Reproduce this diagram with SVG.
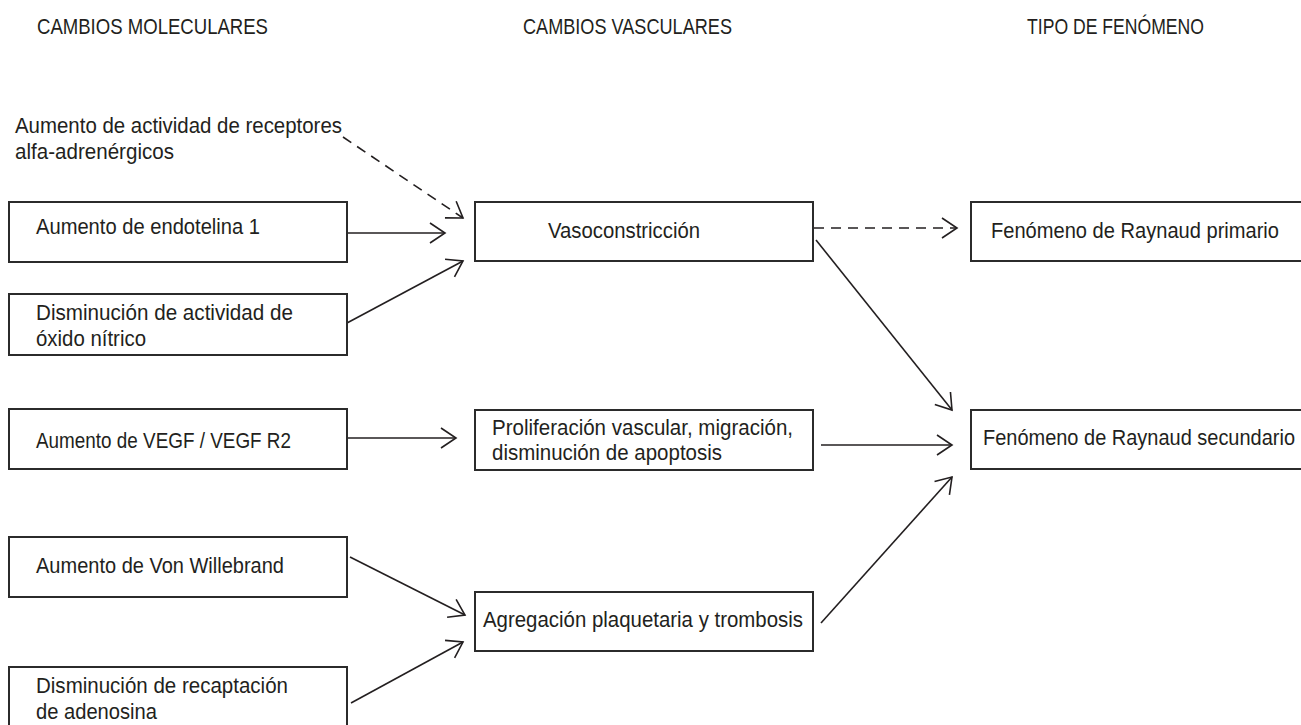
<svg xmlns="http://www.w3.org/2000/svg" width="1301" height="725" viewBox="0 0 1301 725">
<style>
text{font-family:"Liberation Sans",Arial,sans-serif;font-size:22.5px;fill:#231f20}
.box{fill:#fff;stroke:#2b2b2b;stroke-width:2}
.c{fill:none;stroke:#231f20;stroke-width:1.6}
.d{stroke-dasharray:10 7}
</style>
<defs>
<marker id="ah" markerUnits="userSpaceOnUse" markerWidth="20" markerHeight="24" viewBox="0 0 20 24" refX="17" refY="12" orient="auto">
<path d="M2,2 L17,12 L2,22" fill="none" stroke="#231f20" stroke-width="1.6"/>
</marker>
</defs>
<rect width="1301" height="725" fill="#fff"/>
<g id="headers">
<text x="37" y="34" textLength="231" lengthAdjust="spacingAndGlyphs">CAMBIOS MOLECULARES</text>
<text x="523" y="34" textLength="209" lengthAdjust="spacingAndGlyphs">CAMBIOS VASCULARES</text>
<text x="1027" y="34" textLength="177" lengthAdjust="spacingAndGlyphs">TIPO DE FENÓMENO</text>
</g>
<g id="connectors">
<line class="c d" x1="343" y1="137" x2="463" y2="218" marker-end="url(#ah)"/>
<line class="c" x1="347" y1="233" x2="445" y2="233" marker-end="url(#ah)"/>
<line class="c" x1="347" y1="323" x2="463" y2="261" marker-end="url(#ah)"/>
<line class="c" x1="347" y1="438" x2="456" y2="438" marker-end="url(#ah)"/>
<line class="c" x1="350" y1="557" x2="465" y2="615" marker-end="url(#ah)"/>
<line class="c" x1="351" y1="703" x2="463" y2="642" marker-end="url(#ah)"/>
<line class="c d" x1="814" y1="228" x2="957" y2="228" marker-end="url(#ah)"/>
<line class="c" x1="816" y1="240" x2="952" y2="410" marker-end="url(#ah)"/>
<line class="c" x1="821" y1="445" x2="952" y2="445" marker-end="url(#ah)"/>
<line class="c" x1="821" y1="623" x2="952" y2="477" marker-end="url(#ah)"/>
</g>
<g id="n-alfa">
<text x="15" y="133" textLength="327" lengthAdjust="spacingAndGlyphs">Aumento de actividad de receptores</text>
<text x="15" y="159" textLength="159" lengthAdjust="spacingAndGlyphs">alfa-adrenérgicos</text>
</g>
<g id="n-endotelina">
<rect class="box" x="9" y="202" width="338" height="60"/>
<text x="36" y="234" textLength="224" lengthAdjust="spacingAndGlyphs">Aumento de endotelina 1</text>
</g>
<g id="n-oxido">
<rect class="box" x="9" y="294" width="338" height="61"/>
<text x="36" y="320" textLength="257" lengthAdjust="spacingAndGlyphs">Disminución de actividad de</text>
<text x="36" y="346" textLength="110" lengthAdjust="spacingAndGlyphs">óxido nítrico</text>
</g>
<g id="n-vegf">
<rect class="box" x="9" y="409" width="338" height="60"/>
<text x="36" y="448" textLength="255" lengthAdjust="spacingAndGlyphs">Aumento de VEGF / VEGF R2</text>
</g>
<g id="n-vonwillebrand">
<rect class="box" x="9" y="537" width="338" height="60"/>
<text x="36" y="573" textLength="248" lengthAdjust="spacingAndGlyphs">Aumento de Von Willebrand</text>
</g>
<g id="n-adenosina">
<path class="box" d="M9,725 V667 H347 V725"/>
<text x="36" y="693" textLength="252" lengthAdjust="spacingAndGlyphs">Disminución de recaptación</text>
<text x="36" y="719" textLength="121" lengthAdjust="spacingAndGlyphs">de adenosina</text>
</g>
<g id="n-vasoconstriccion">
<rect class="box" x="475" y="202" width="338" height="59"/>
<text x="548" y="238" textLength="152" lengthAdjust="spacingAndGlyphs">Vasoconstricción</text>
</g>
<g id="n-proliferacion">
<rect class="box" x="475" y="410" width="338" height="60"/>
<text x="492" y="435" textLength="301" lengthAdjust="spacingAndGlyphs">Proliferación vascular, migración,</text>
<text x="492" y="460" textLength="230" lengthAdjust="spacingAndGlyphs">disminución de apoptosis</text>
</g>
<g id="n-agregacion">
<rect class="box" x="475" y="592" width="338" height="59"/>
<text x="483" y="627" textLength="320" lengthAdjust="spacingAndGlyphs">Agregación plaquetaria y trombosis</text>
</g>
<g id="n-primario">
<path class="box" d="M1301,202 H971 V261 H1301"/>
<text x="991" y="238" textLength="288" lengthAdjust="spacingAndGlyphs">Fenómeno de Raynaud primario</text>
</g>
<g id="n-secundario">
<path class="box" d="M1301,410 H971 V469 H1301"/>
<text x="983" y="445" textLength="312" lengthAdjust="spacingAndGlyphs">Fenómeno de Raynaud secundario</text>
</g>
</svg>
